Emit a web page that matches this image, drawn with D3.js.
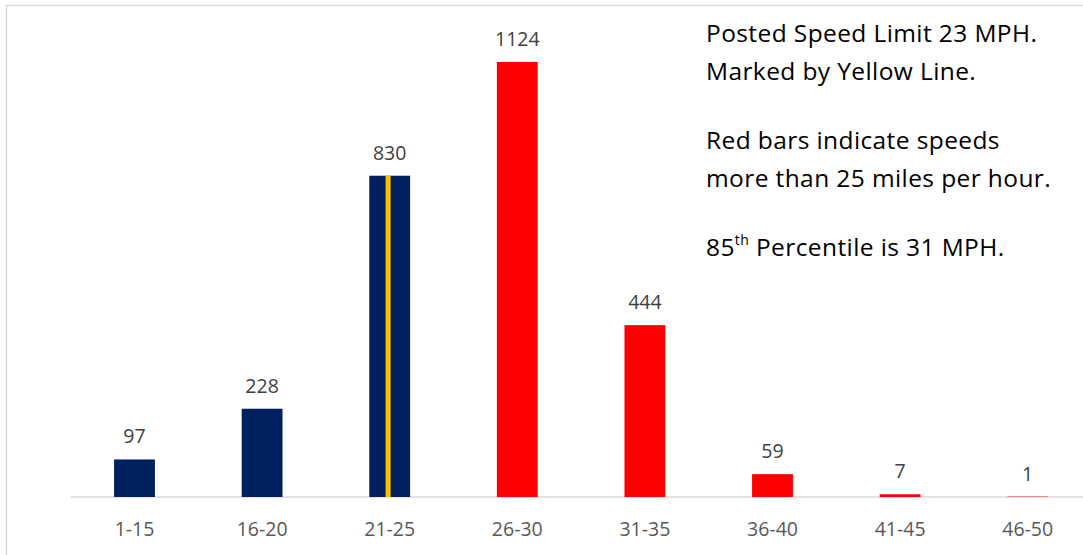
<!DOCTYPE html>
<html>
<head>
<meta charset="utf-8">
<script src="https://cdn.jsdelivr.net/npm/d3@7"></script>
<style>
html,body{margin:0;padding:0;background:#fff;overflow:hidden;}
svg{display:block;}
</style>
</head>
<body>
<svg id="chart" width="1083" height="555"></svg>
<script>
const categories = ["1-15","16-20","21-25","26-30","31-35","36-40","41-45","46-50"];
const counts = [97, 228, 830, 1124, 444, 59, 7, 1];
const binLow = [1, 16, 21, 26, 31, 36, 41, 46];
const binHigh = [15, 20, 25, 30, 35, 40, 45, 50];
const speedLimit = 23;
const overLimit = 25;
const yMax = 1200;
const noteLines = [
  "Posted Speed Limit 23 MPH.",
  "Marked by Yellow Line.",
  "",
  "Red bars indicate speeds",
  "more than 25 miles per hour.",
  "",
  "85th Percentile is 31 MPH."
];

const FONT = "'Open Sans', Carlito, Calibri, Lato, sans-serif";
const svg = d3.select("#chart");

// outer chart border (cropped on right/bottom)
svg.append("rect").attr("x", 6.5).attr("y", 5.5).attr("width", 1200).attr("height", 600)
  .attr("fill", "#fff").attr("stroke", "#d9d9d9").attr("stroke-width", 1.5);

const plotLeft = 70.7, plotRight = 1091.5, plotTop = 32.5, plotBottom = 497;

const x = d3.scaleBand().domain(categories).range([plotLeft, plotRight])
  .paddingInner(0.68).paddingOuter(0.34);
const y = d3.scaleLinear().domain([0, yMax]).range([plotBottom, plotTop]);

const data = categories.map((c, i) => ({c, v: counts[i], lo: binLow[i], hi: binHigh[i]}));

// axis
const xAxis = d3.axisBottom(x).tickSize(0).tickPadding(0);
const gx = svg.append("g").attr("transform", `translate(0,${plotBottom})`).call(xAxis);
gx.select(".domain").attr("stroke", "#d9d9d9").attr("stroke-width", 1.5)
  .attr("d", `M${plotLeft},0H${plotRight + 20}`);
gx.selectAll(".tick text").attr("dy", 0).attr("y", 39)
  .attr("font-family", FONT).attr("font-size", 19.5).attr("fill", "#595959");

// bars
svg.append("g").selectAll("rect").data(data).join("rect")
  .attr("x", d => x(d.c))
  .attr("width", x.bandwidth())
  .attr("y", d => y(d.v))
  .attr("height", d => y(0) - y(d.v))
  .attr("fill", d => d.lo > overLimit ? "#ff0000" : "#002060");

// yellow speed-limit marker in its bin
const limitBin = data.find(d => speedLimit >= d.lo && speedLimit <= d.hi);
const inBin = d3.scaleLinear().domain([limitBin.lo, limitBin.hi + 1])
  .range([x(limitBin.c), x(limitBin.c) + x.bandwidth()]);
svg.append("rect")
  .attr("x", inBin(speedLimit))
  .attr("width", 5)
  .attr("y", y(limitBin.v))
  .attr("height", y(0) - y(limitBin.v))
  .attr("fill", "#ffc000");

// value labels
svg.append("g").selectAll("text").data(data).join("text")
  .attr("x", d => x(d.c) + x.bandwidth() / 2)
  .attr("y", d => y(d.v) - 16)
  .attr("text-anchor", "middle")
  .attr("font-family", FONT).attr("font-size", 19.5).attr("fill", "#404040")
  .text(d => d.v);

// annotation text
const ng = svg.append("g").attr("font-family", FONT).attr("font-size", 24.5)
  .attr("letter-spacing", 0.4).attr("fill", "#000");
const baselines = [42, 80, null, 149, 187, null, 256];
noteLines.forEach((t, i) => {
  if (!t) return;
  const tx = ng.append("text").attr("x", 706).attr("y", baselines[i]);
  if (t.startsWith("85th")) {
    tx.append("tspan").text("85");
    tx.append("tspan").attr("font-size", 14).attr("dy", -11).text("th");
    tx.append("tspan").attr("dy", 11).text(" Percentile is 31 MPH.");
  } else {
    tx.text(t);
  }
});
</script>
</body>
</html>
